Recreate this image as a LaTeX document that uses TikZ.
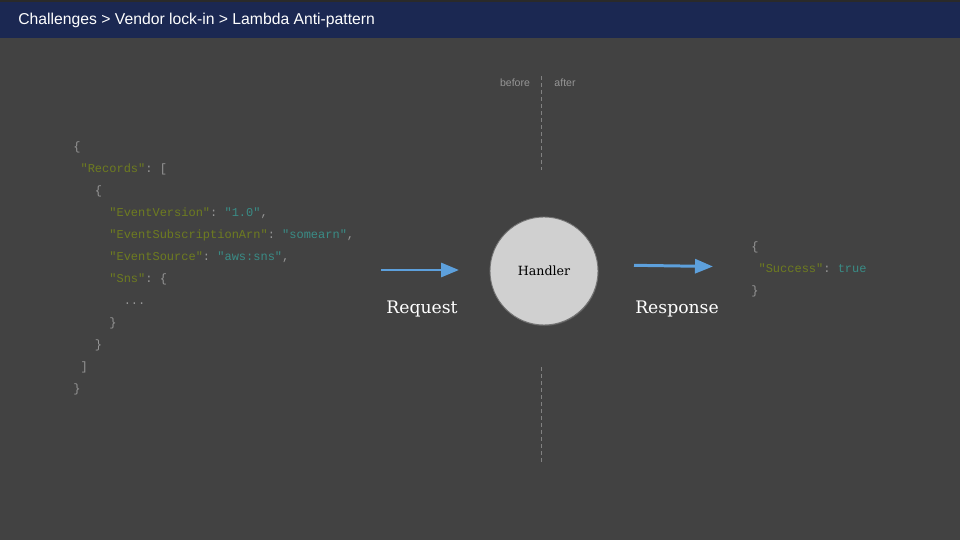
\documentclass[tikz,border=0pt]{standalone}
\usepackage{fontspec}
\setmainfont{DejaVu Serif}
\setsansfont{Liberation Sans}
\setmonofont{Liberation Mono}
\usetikzlibrary{positioning}
\usetikzlibrary{arrows.meta}
\usetikzlibrary{shadows}
\usepackage{xcolor}

\definecolor{slideBg}{RGB}{66,66,66}
\definecolor{topStrip}{RGB}{42,42,42}
\definecolor{titleBar}{RGB}{27,40,82}
\definecolor{jsonKey}{RGB}{110,124,32}
\definecolor{jsonVal}{RGB}{58,140,134}
\definecolor{jsonPun}{RGB}{150,150,150}
\definecolor{arrowBlue}{RGB}{93,160,220}
\definecolor{handlerFill}{RGB}{208,208,208}

\newcommand{\jkey}[1]{\textcolor{jsonKey}{#1}}
\newcommand{\jval}[1]{\textcolor{jsonVal}{#1}}
\newcommand{\jpun}[1]{\textcolor{jsonPun}{#1}}

\begin{document}
\begin{tikzpicture}[x=0.02cm, y=-0.02cm]

\tikzset
  {
    titleText/.style=   {anchor=west, text=white, font=\sffamily\fontsize{8.95}{11}\selectfont, inner sep=0pt},
    codeLine/.style=    {anchor=base west, font=\ttfamily\fontsize{6.83}{8}\selectfont, inner sep=0pt},
    sideLabel/.style=   {text=jsonPun, font=\sffamily\fontsize{6}{7}\selectfont, inner sep=0pt},
    divider/.style=     {jsonPun!75!slideBg, line width=0.55pt, dash pattern=on 2.3pt off 1.7pt},
    handlerNode/.style= {circle, fill=handlerFill, draw=black!55, line width=0.5pt, minimum size=2.16cm,
                         font=\fontsize{7.2}{9}\selectfont, drop shadow={opacity=0.35, shadow xshift=0.3pt, shadow yshift=-0.6pt}},
    flowArrow/.style=   {arrowBlue, line width=1.7pt, -{Triangle[length=0.36cm, width=0.28cm]}},
    flowLabel/.style=   {text=white, font=\fontsize{9.8}{12}\selectfont, inner sep=0pt}
  }

\fill[slideBg] (0,0) rectangle (960,540);
\useasboundingbox (0,0) rectangle (960,540);

% title bar
\fill[topStrip] (0,0) rectangle (960,2);
\fill[titleBar] (0,2) rectangle (960,38);
\node[titleText] (title) at (18,20) {Challenges > Vendor lock-in > Lambda Anti-pattern};

% before / after divider
\node[sideLabel] (beforeLabel) at (515,83) {before};
\node[sideLabel] (afterLabel) at (565,83) {after};

\coordinate (divTopA) at (541,76);
\coordinate (divTopB) at (541,170);
\coordinate (divBotA) at (541,367);
\coordinate (divBotB) at (541,462);
\draw[divider] (divTopA) -- (divTopB);
\draw[divider] (divBotA) -- (divBotB);

% request json
\foreach \ind/\txt [count=\i from 0] in {
    0/{\jpun{\{}},
    1/{\jkey{"Records"}\jpun{: [}},
    3/{\jpun{\{}},
    5/{\jkey{"EventVersion"}\jpun{: }\jval{"1.0"}\jpun{,}},
    5/{\jkey{"EventSubscriptionArn"}\jpun{: }\jval{"somearn"}\jpun{,}},
    5/{\jkey{"EventSource"}\jpun{: }\jval{"aws:sns"}\jpun{,}},
    5/{\jkey{"Sns"}\jpun{: \{}},
    7/{\jpun{...}},
    5/{\jpun{\}}},
    3/{\jpun{\}}},
    1/{\jpun{]}},
    0/{\jpun{\}}}}
\node[codeLine] (req\i) at (73+7.2*\ind, 151+22*\i) {\txt};

% handler
\node[handlerNode] (handler) at (544,271) {Handler};

% arrows
\coordinate (reqStart) at (381,270);
\coordinate (reqEnd) at (459,270);
\draw[flowArrow] (reqStart) -- (reqEnd);

\coordinate (resStart) at (634,265.3);
\coordinate (resEnd) at (713,266.5);
\draw[flowArrow] (resStart) -- (resEnd);

\node[flowLabel] (reqLabel) at (422,309) {Request};
\node[flowLabel] (resLabel) at (677,309) {Response};

% response json
\node[codeLine] (res0) at (751,251) {\jpun{\{}};
\node[codeLine] (res1) at (751+7.2,273) {\jkey{"Success"}\jpun{: }\jval{true}};
\node[codeLine] (res2) at (751,295) {\jpun{\}}};

\end{tikzpicture}
\end{document}
